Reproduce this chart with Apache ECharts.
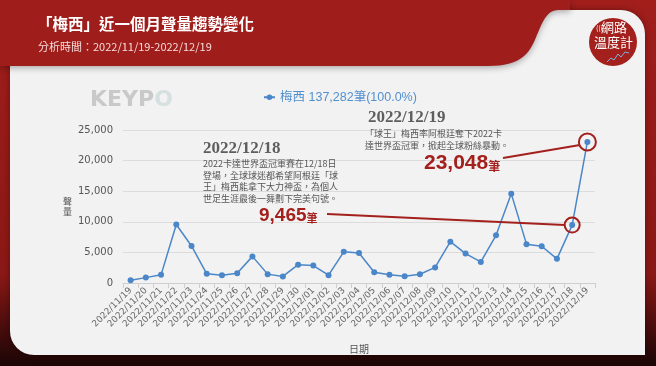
<!DOCTYPE html>
<html>
<head>
<meta charset="utf-8">
<script src="https://cdn.jsdelivr.net/npm/echarts@6/dist/echarts.min.js"></script>
<style>
  html, body { margin: 0; padding: 0; background: #9f1d1a; }
  #main { width: 656px; height: 366px; }
</style>
</head>
<body>
<div id="main"></div>
<script>
// 資料
var dates = ['2022/11/19', '2022/11/20', '2022/11/21', '2022/11/22', '2022/11/23', '2022/11/24',
    '2022/11/25', '2022/11/26', '2022/11/27', '2022/11/28', '2022/11/29', '2022/11/30',
    '2022/12/01', '2022/12/02', '2022/12/03', '2022/12/04', '2022/12/05', '2022/12/06',
    '2022/12/07', '2022/12/08', '2022/12/09', '2022/12/10', '2022/12/11', '2022/12/12',
    '2022/12/13', '2022/12/14', '2022/12/15', '2022/12/16', '2022/12/17', '2022/12/18',
    '2022/12/19'];
var messiCounts = [450, 880, 1330, 9550, 6050, 1500, 1280, 1600, 4350, 1450, 1080, 3000,
    2850, 1280, 5100, 4900, 1750, 1350, 1120, 1430, 2550, 6750, 4800, 3450,
    7800, 14600, 6350, 6000, 3950, 9465, 23048];
var seriesName = '梅西';
var totalCount = 137282;
var yTicks = [0, 5000, 10000, 15000, 20000, 25000];

var RED = '#9f1d1a';
var BLUE = '#4a86c8';
var CJK = '"Noto Sans CJK TC", "Noto Sans", sans-serif';

function fmt(n) {
    return n.toString().replace(/\B(?=(\d{3})+(?!\d))/g, ',');
}

// 橫幅右側的弧形邊
function bannerPoints() {
    var pts = [[0, 0], [570, 0], [570, 10]];
    var segs = [
        [[558, 10], [544, 10], [540, 30], [533, 44]],
        [[533, 44], [525, 60], [512, 66], [488, 66]]
    ];
    segs.forEach(function (s) {
        for (var i = 0; i <= 12; i++) {
            var t = i / 12, u = 1 - t;
            pts.push([
                u * u * u * s[0][0] + 3 * u * u * t * s[1][0] + 3 * u * t * t * s[2][0] + t * t * t * s[3][0],
                u * u * u * s[0][1] + 3 * u * u * t * s[1][1] + 3 * u * t * t * s[2][1] + t * t * t * s[3][1]
            ]);
        }
    });
    pts.push([0, 66]);
    return pts;
}

var chart = echarts.init(document.getElementById('main'));

var graphics = [
    // 內容卡片
    {
        type: 'rect', z: 0, silent: true,
        shape: { x: 10, y: 10, width: 635, height: 345, r: [0, 24, 0, 24] },
        style: { fill: '#f2f2f2', shadowBlur: 6, shadowColor: 'rgba(0,0,0,0.35)' }
    },
    // 標題橫幅
    {
        type: 'polygon', z: 1, silent: true,
        shape: { points: bannerPoints() },
        style: { fill: RED, shadowBlur: 6, shadowColor: 'rgba(0,0,0,0.3)', shadowOffsetY: 2 }
    },
    {
        type: 'text', z: 2, left: 37, top: 16,
        style: { text: '「梅西」近一個月聲量趨勢變化', fill: '#fff', font: 'bold 15.5px ' + CJK }
    },
    {
        type: 'text', z: 2, left: 38, top: 41,
        style: { text: '分析時間：2022/11/19-2022/12/19', fill: '#f6dcdc', font: '11px "Liberation Sans Narrow", ' + CJK }
    },
    // 網路溫度計 logo
    {
        type: 'circle', z: 2, silent: true,
        shape: { cx: 613, cy: 42, r: 24 },
        style: { fill: '#a3201d' }
    },
    {
        type: 'text', z: 3, left: 601, top: 21,
        style: { text: '網路', fill: '#fff', font: '13px ' + CJK }
    },
    {
        type: 'text', z: 3, left: 596, top: 25,
        style: { text: '(((', fill: '#fff', font: '7px ' + CJK }
    },
    {
        type: 'text', z: 3, left: 594, top: 36,
        style: { text: '溫度計', fill: '#fff', font: '13px ' + CJK }
    },
    {
        type: 'polyline', z: 3, silent: true,
        shape: { points: [[607, 62], [611, 58], [614, 60], [618, 54], [621, 57], [625, 52], [629, 53]] },
        style: { stroke: '#7fb0e0', lineWidth: 1, fill: null }
    },
    // KEYPO
    {
        type: 'text', z: 2, left: 90, top: 89,
        style: {
            text: '{a|KEYP}{b|O}',
            rich: {
                a: { fill: '#c9c9c9', font: 'bold 22px "DejaVu Sans", sans-serif' },
                b: { fill: '#d6e0e0', font: 'bold 22px "DejaVu Sans", sans-serif' }
            }
        }
    },
    // 12/18 註解
    {
        type: 'text', z: 5, left: 203, top: 140,
        style: { text: '2022/12/18', fill: '#5e5e5e', font: 'bold 17px "Liberation Serif", serif' }
    },
    {
        type: 'text', z: 5, left: 203, top: 158,
        style: {
            text: '2022卡達世界盃冠軍賽在12/18日\n登場，全球球迷都希望阿根廷「球\n王」梅西能拿下大力神盃，為個人\n世足生涯最後一舞劃下完美句號。',
            fill: '#555', font: '9px ' + CJK, lineHeight: 11.5
        }
    },
    {
        type: 'text', z: 5, left: 259, top: 206,
        style: {
            text: '{a|' + fmt(messiCounts[29]) + '}{b|筆}',
            rich: {
                a: { fill: '#a3201d', font: 'bold 19px "Liberation Sans", Arial, sans-serif' },
                b: { fill: '#a3201d', font: 'bold 11px ' + CJK, padding: [4, 0, 0, 0] }
            }
        }
    },
    // 12/19 註解
    {
        type: 'text', z: 5, left: 368, top: 109,
        style: { text: '2022/12/19', fill: '#5e5e5e', font: 'bold 17px "Liberation Serif", serif' }
    },
    {
        type: 'text', z: 5, left: 365, top: 128,
        style: {
            text: '「球王」梅西率阿根廷奪下2022卡\n達世界盃冠軍，掀起全球粉絲暴動。',
            fill: '#555', font: '9px ' + CJK, lineHeight: 11.5
        }
    },
    {
        type: 'text', z: 5, left: 424, top: 153,
        style: {
            text: '{a|' + fmt(messiCounts[30]) + '}{b|筆}',
            rich: {
                a: { fill: '#a3201d', font: 'bold 21px "Liberation Sans", Arial, sans-serif' },
                b: { fill: '#a3201d', font: 'bold 12px ' + CJK, padding: [5, 0, 0, 0] }
            }
        }
    }
];

var option = {
    backgroundColor: {
        type: 'linear', x: 0, y: 0, x2: 0, y2: 1,
        colorStops: [
            { offset: 0, color: '#a11e1b' },
            { offset: 0.75, color: '#8a1816' },
            { offset: 1, color: '#1a0505' }
        ]
    },
    textStyle: { fontFamily: CJK },
    animation: false,
    graphic: graphics,
    legend: {
        data: [seriesName],
        left: 258, top: 86,
        itemWidth: 11, itemHeight: 7, itemGap: 4,
        textStyle: { color: '#5290cf', fontSize: 12.5, fontFamily: '"Liberation Sans", ' + CJK },
        formatter: function (name) {
            return name + ' ' + fmt(totalCount) + '筆(100.0%)';
        }
    },
    grid: { left: 123, right: 61, top: 130, bottom: 83, containLabel: false },
    xAxis: {
        type: 'category',
        data: dates,
        name: '日期',
        nameLocation: 'middle',
        nameGap: 61,
        nameTextStyle: { color: '#555', fontSize: 10 },
        axisLine: { lineStyle: { color: '#cfcfcf' } },
        axisTick: { show: true, length: 5, lineStyle: { color: '#cfcfcf' } },
        axisLabel: {
            rotate: 45, interval: 0, color: '#666', fontSize: 9,
            fontFamily: '"DejaVu Sans", sans-serif', margin: 6
        }
    },
    yAxis: {
        type: 'value',
        min: yTicks[0], max: yTicks[yTicks.length - 1], interval: yTicks[1] - yTicks[0],
        name: '聲\n量',
        nameLocation: 'middle',
        nameRotate: 0,
        nameGap: 47,
        nameTextStyle: { color: '#555', fontSize: 9, lineHeight: 10 },
        axisLine: { show: false },
        axisTick: { show: false },
        splitLine: { lineStyle: { color: '#dcdcdc' } },
        axisLabel: {
            color: '#555', fontSize: 10, margin: 10,
            fontFamily: '"DejaVu Sans", sans-serif',
            formatter: function (v) { return fmt(v); }
        }
    },
    series: [{
        name: seriesName,
        type: 'line',
        data: messiCounts,
        z: 3,
        symbol: 'circle',
        symbolSize: 6,
        lineStyle: { color: BLUE, width: 1.5 },
        itemStyle: { color: BLUE },
        markPoint: {
            symbol: 'circle',
            symbolSize: 15,
            silent: true,
            label: { show: false },
            itemStyle: { color: 'rgba(0,0,0,0)', borderColor: '#a3201d', borderWidth: 2 },
            data: [
                { coord: [29, messiCounts[29]] },
                { coord: [30, messiCounts[30]], symbolSize: 17 }
            ]
        }
    }]
};

chart.setOption(option);

// 註解連線，終點取自資料點位置
var p18 = chart.convertToPixel({ seriesIndex: 0 }, [29, messiCounts[29]]);
var p19 = chart.convertToPixel({ seriesIndex: 0 }, [30, messiCounts[30]]);
chart.setOption({
    graphic: graphics.concat([
        {
            type: 'line', z: 5, silent: true,
            shape: { x1: 327, y1: 214, x2: p18[0] - 7.5, y2: p18[1] },
            style: { stroke: '#a3201d', lineWidth: 2 }
        },
        {
            type: 'line', z: 5, silent: true,
            shape: { x1: 503, y1: 158, x2: p19[0] - 7.5, y2: p19[1] + 3 },
            style: { stroke: '#a3201d', lineWidth: 2 }
        }
    ])
});
</script>
</body>
</html>
